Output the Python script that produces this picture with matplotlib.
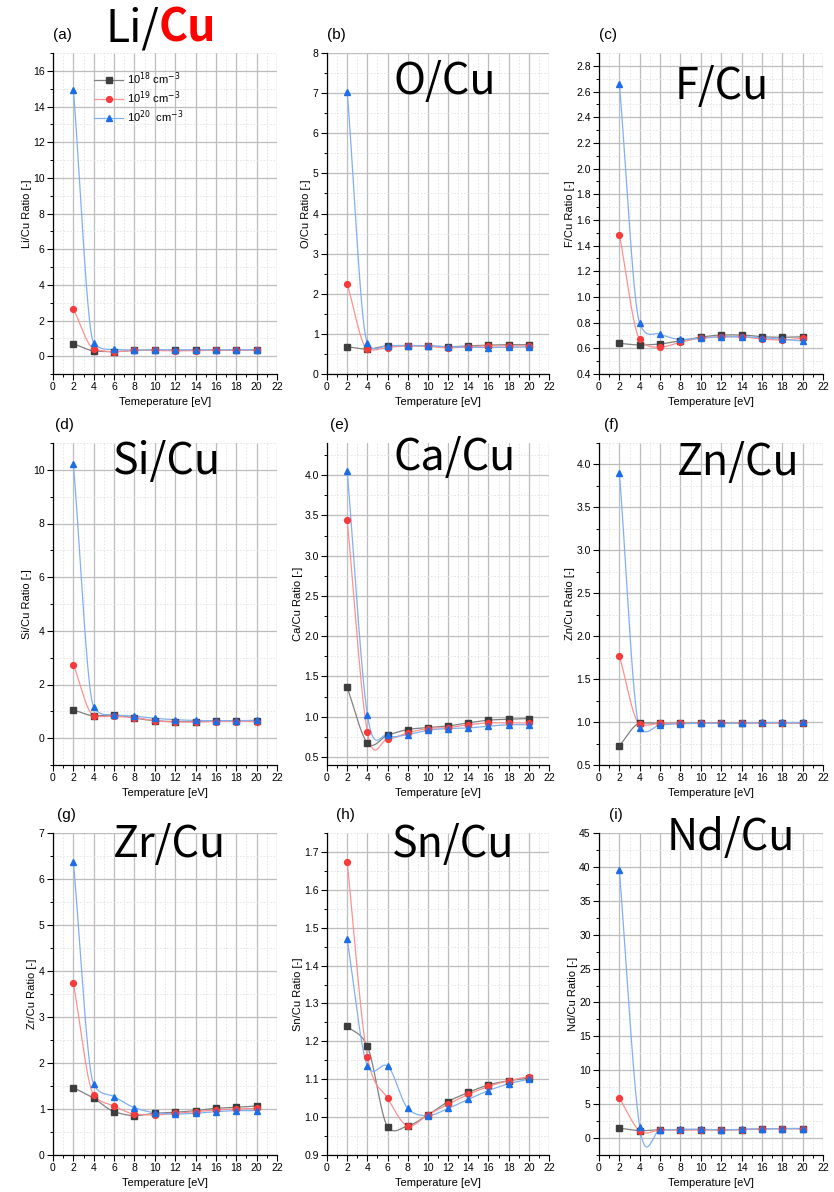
import numpy as np
import matplotlib
matplotlib.use("Agg")
import matplotlib.pyplot as plt
from matplotlib.ticker import MultipleLocator

# temperature grid shared by all panels
temperature = [2, 4, 6, 8, 10, 12, 14, 16, 18, 20]
density_labels = ["10$^{18}$ cm$^{-3}$", "10$^{19}$ cm$^{-3}$", "10$^{20}$  cm$^{-3}$"]

# ratios, one list per electron density
li_18 = [0.70, 0.30, 0.25, 0.32, 0.33, 0.32, 0.33, 0.34, 0.34, 0.34]
li_19 = [2.65, 0.42, 0.25, 0.33, 0.32, 0.30, 0.31, 0.33, 0.34, 0.33]
li_20 = [14.95, 0.75, 0.38, 0.35, 0.36, 0.36, 0.36, 0.36, 0.36, 0.36]

o_18 = [0.68, 0.62, 0.70, 0.71, 0.70, 0.68, 0.70, 0.72, 0.73, 0.73]
o_19 = [2.24, 0.62, 0.66, 0.70, 0.69, 0.65, 0.68, 0.70, 0.70, 0.70]
o_20 = [7.04, 0.78, 0.71, 0.71, 0.70, 0.68, 0.67, 0.66, 0.67, 0.67]

f_18 = [0.639, 0.626, 0.634, 0.660, 0.686, 0.704, 0.704, 0.690, 0.686, 0.690]
f_19 = [1.486, 0.670, 0.610, 0.647, 0.680, 0.690, 0.690, 0.672, 0.665, 0.678]
f_20 = [2.660, 0.795, 0.710, 0.670, 0.678, 0.690, 0.690, 0.683, 0.670, 0.657]

si_18 = [1.05, 0.84, 0.86, 0.75, 0.65, 0.62, 0.62, 0.65, 0.65, 0.65]
si_19 = [2.74, 0.84, 0.81, 0.77, 0.65, 0.60, 0.60, 0.62, 0.62, 0.62]
si_20 = [10.22, 1.17, 0.87, 0.82, 0.74, 0.69, 0.66, 0.65, 0.65, 0.67]

ca_18 = [1.363, 0.674, 0.770, 0.840, 0.865, 0.886, 0.923, 0.957, 0.969, 0.977]
ca_19 = [3.447, 0.811, 0.724, 0.800, 0.853, 0.865, 0.900, 0.923, 0.923, 0.923]
ca_20 = [4.057, 1.027, 0.770, 0.778, 0.832, 0.853, 0.860, 0.882, 0.900, 0.900]

zn_18 = [0.725, 0.985, 0.985, 0.990, 0.990, 0.990, 0.990, 0.990, 0.990, 0.990]
zn_19 = [1.769, 0.977, 0.985, 0.985, 0.988, 0.985, 0.990, 0.990, 0.990, 0.990]
zn_20 = [3.903, 0.935, 0.966, 0.980, 0.985, 0.985, 0.990, 0.995, 0.995, 0.995]

zr_18 = [1.465, 1.233, 0.943, 0.856, 0.906, 0.928, 0.964, 1.015, 1.037, 1.066]
zr_19 = [3.735, 1.305, 1.066, 0.892, 0.870, 0.906, 0.943, 0.979, 1.000, 1.015]
zr_20 = [6.360, 1.537, 1.269, 1.030, 0.920, 0.892, 0.906, 0.943, 0.964, 0.964]

sn_18 = [1.240, 1.187, 0.975, 0.977, 1.006, 1.041, 1.065, 1.085, 1.096, 1.103]
sn_19 = [1.673, 1.160, 1.050, 0.977, 1.006, 1.034, 1.060, 1.081, 1.096, 1.107]
sn_20 = [1.469, 1.136, 1.135, 1.023, 1.004, 1.023, 1.047, 1.070, 1.088, 1.100]

nd_18 = [1.47, 1.10, 1.23, 1.25, 1.25, 1.20, 1.25, 1.35, 1.40, 1.40]
nd_19 = [5.90, 1.05, 1.20, 1.15, 1.20, 1.20, 1.25, 1.35, 1.40, 1.35]
nd_20 = [39.5, 1.62, 1.20, 1.30, 1.30, 1.20, 1.30, 1.35, 1.40, 1.40]

# marker colour, line colour, marker shape for the three densities
series_style = [("#3d3d3d", "#808080", "s"),
                ("#f53b3b", "#ff9090", "o"),
                ("#1c6ee6", "#80b0f2", "^")]


def smooth_curve(x, y, w, n=40):
    """Hermite curve through the points; w blends pchip (0) and catmull-rom (1) tangents."""
    x = np.asarray(x, float)
    y = np.asarray(y, float)
    h = np.diff(x)
    d = np.diff(y) / h

    # monotone (pchip) tangents at inner points
    mp = np.zeros_like(y)
    for k in range(1, len(x) - 1):
        if d[k - 1] * d[k] > 0:
            w1 = 2 * h[k] + h[k - 1]
            w2 = h[k] + 2 * h[k - 1]
            mp[k] = (w1 + w2) / (w1 / d[k - 1] + w2 / d[k])

    # catmull-rom tangents at inner points
    mc = np.zeros_like(y)
    mc[1:-1] = (y[2:] - y[:-2]) / (x[2:] - x[:-2])

    m = (1 - w) * mp + w * mc
    # end points just follow the secant so the first drop stays straight
    m[0] = d[0]
    m[-1] = d[-1]

    xs, ys = [], []
    t = np.linspace(0, 1, n)
    for i in range(len(x) - 1):
        h00 = 2 * t**3 - 3 * t**2 + 1
        h10 = t**3 - 2 * t**2 + t
        h01 = -2 * t**3 + 3 * t**2
        h11 = t**3 - t**2
        ys.append(h00 * y[i] + h10 * h[i] * m[i] + h01 * y[i + 1] + h11 * h[i] * m[i + 1])
        xs.append(x[i] + t * h[i])
    return np.concatenate(xs), np.concatenate(ys)


# panel: letter, element, data, ylim, major step, smoothing, title position (axes coords)
panels = [
    ("a", "Li", [li_18, li_19, li_20], (-1, 17), 2, 0.1, None),
    ("b", "O", [o_18, o_19, o_20], (0, 8), 1, 0.25, (0.53, 0.91)),
    ("c", "F", [f_18, f_19, f_20], (0.4, 2.9), 0.2, 0.3, (0.55, 0.895)),
    ("d", "Si", [si_18, si_19, si_20], (-1, 11), 2, 0.15, (0.51, 0.94)),
    ("e", "Ca", [ca_18, ca_19, ca_20], (0.4, 4.4), 0.5, 1.0, (0.577, 0.953)),
    ("f", "Zn", [zn_18, zn_19, zn_20], (0.5, 4.25), 0.5, 0.25, (0.62, 0.938)),
    ("g", "Zr", [zr_18, zr_19, zr_20], (0, 7), 1, 0.15, (0.52, 0.963)),
    ("h", "Sn", [sn_18, sn_19, sn_20], (0.9, 1.75), 0.1, 0.7, (0.57, 0.963)),
    ("i", "Nd", [nd_18, nd_19, nd_20], (-2.5, 45), 5, 1.0, (0.59, 0.984)),
]

W, H = 834, 1192
col_px = [(53, 224), (327, 222), (599, 224)]
row_px = [(53, 374), (443, 765), (833, 1155)]
label_dx = {"a": 0, "b": 0, "c": 0, "d": 2, "e": 3, "f": 5, "g": 4, "h": 9, "i": 10}

plt.rcParams["font.family"] = ["Liberation Sans", "DejaVu Sans"]
title_font = ["Noto Sans CJK SC", "DejaVu Sans"]

fig = plt.figure(figsize=(W / 100, H / 100), dpi=100)

for idx, (letter, elem, data, ylim, step, smooth, tpos) in enumerate(panels):
    left, width = col_px[idx % 3]
    top, bottom = row_px[idx // 3]
    ax = fig.add_axes([left / W, 1 - bottom / H, width / W, (bottom - top) / H])

    for vals, (mcol, lcol, mk), lab in zip(data, series_style, density_labels):
        xs, ys = smooth_curve(temperature, vals, smooth)
        ax.plot(xs, ys, color=lcol, lw=0.9, zorder=3)
        ax.plot(temperature, vals, linestyle="none", marker=mk, color=mcol,
                markersize=4.2, zorder=4)
        # proxy handle for the legend (line + marker)
        ax.plot([], [], color=lcol, lw=0.9, marker=mk, markerfacecolor=mcol,
                markeredgecolor=mcol, markersize=4.2, label=lab)

    ax.set_xlim(0, 22)
    ax.set_ylim(*ylim)
    ax.xaxis.set_major_locator(MultipleLocator(2))
    ax.xaxis.set_minor_locator(MultipleLocator(1))
    ax.yaxis.set_major_locator(MultipleLocator(step))
    ax.yaxis.set_minor_locator(MultipleLocator(step / 2))

    ax.grid(which="major", color="#bdbdbd", lw=0.9, zorder=0)
    ax.grid(which="minor", color="#e2e2e2", lw=0.6, linestyle=(0, (2, 2)), zorder=0)
    ax.set_axisbelow(True)
    for s in ["top", "right"]:
        ax.spines[s].set_visible(False)
    for s in ["left", "bottom"]:
        ax.spines[s].set_linewidth(0.9)
    ax.tick_params(which="major", direction="out", length=4, width=0.8, labelsize=7.5, pad=2)
    ax.tick_params(which="minor", direction="out", length=2.5, width=0.7)

    ax.set_xlabel("Temeperature [eV]" if letter == "a" else "Temperature [eV]",
                  fontsize=8, labelpad=3)
    ax.set_ylabel(f"{elem}/Cu Ratio [-]", fontsize=8, labelpad=1)

    ax.text(label_dx[letter] / width, 1.055, f"({letter})", transform=ax.transAxes,
            fontsize=11, ha="left", va="center")

    if tpos is not None:
        ax.text(tpos[0], tpos[1], f"{elem}/Cu", transform=ax.transAxes, fontsize=31,
                family=title_font, ha="center", va="center", zorder=6)
    else:
        # Li/Cu title sits above the first panel, with Cu in bold red
        fig.text(159 / W, 1 - 42 / H, "Li/", fontsize=32, family=title_font,
                 ha="right", va="baseline")
        fig.text(159 / W, 1 - 42 / H, "Cu", fontsize=32, family=title_font,
                 weight="bold", color="red", ha="left", va="baseline")
        ax.legend(loc="upper left", bbox_to_anchor=(0.185, 0.945), frameon=False,
                  fontsize=8, handlelength=2.6, labelspacing=0.2,
                  handletextpad=0.3, borderaxespad=0, borderpad=0)

fig.savefig("out.png", dpi=100)
